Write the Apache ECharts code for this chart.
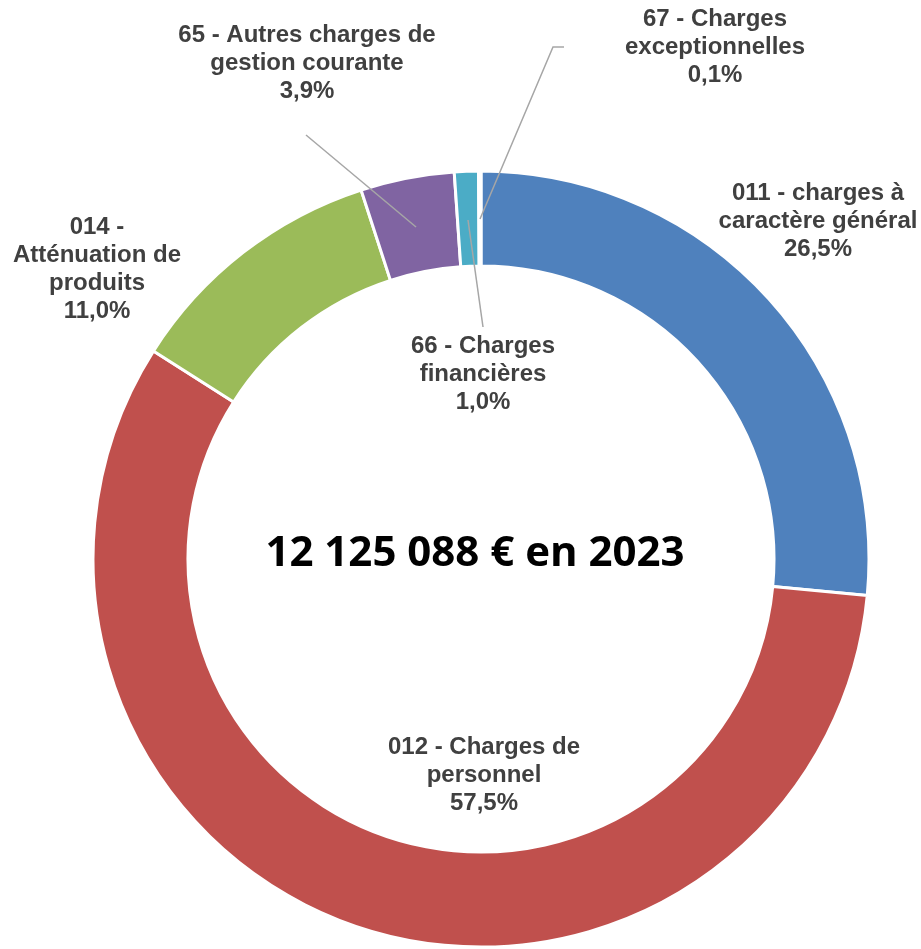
<!DOCTYPE html>
<html>
<head>
<meta charset="utf-8">
<script src="https://cdn.jsdelivr.net/npm/echarts@6/dist/echarts.min.js"></script>
<style>
  html, body { margin: 0; padding: 0; background: #fff; }
  #main { width: 921px; height: 949px; }
</style>
</head>
<body>
<div id="main"></div>
<script>
// Chapitres de dépenses (libellés tels qu'affichés)
const categories = [
    '011 - charges à\ncaractère général',
    '012 - Charges de\npersonnel',
    '014 -\nAtténuation de\nproduits',
    '65 - Autres charges de\ngestion courante',
    '66 - Charges\nfinancières',
    '67 - Charges\nexceptionnelles'
];
const shares = [26.5, 57.5, 11.0, 3.9, 1.0, 0.1];
const colors = ['#4F81BD', '#C0504D', '#9BBB59', '#8064A2', '#4BACC6', '#F79646'];
const centerText = '12 125 088 € en 2023';

// label placement: [x, y] centre of each label block
const labelPos = [
    [818, 221],
    [484, 775],
    [97, 269],
    [307, 63],
    [483, 374],
    [715, 47]
];
// leader lines, drawn over the ring like in the original
const leaderLines = [
    [[416, 227], [306, 135]],
    [[468, 220], [483, 327]],
    [[480, 219], [553, 47], [564, 47]]
];

let myChart = echarts.init(document.getElementById('main'));

let options = {
    animation: false,
    graphic: [{
        type: 'text',
        x: 475,
        y: 533,
        z: 100,
        style: {
            text: centerText,
            font: 'bold 42px "Open Sans", sans-serif',
            fill: '#000',
            textAlign: 'center'
        }
    }].concat(leaderLines.map(pts => ({
        type: 'polyline',
        z: 100,
        shape: { points: pts },
        style: { stroke: '#A6A6A6', lineWidth: 1.5, fill: null }
    }))),
    series: [{
        type: 'pie',
        center: [481, 559],
        radius: [293, 388],
        startAngle: 90,
        clockwise: true,
        avoidLabelOverlap: false,
        itemStyle: { borderColor: '#fff', borderWidth: 3 },
        label: {
            show: true,
            position: 'outside',
            formatter: p => p.name + '\n' + shares[p.dataIndex].toFixed(1).replace('.', ',') + '%',
            fontFamily: '"Liberation Sans", Arial, sans-serif',
            fontWeight: 'bold',
            fontSize: 24,
            lineHeight: 28,
            color: '#404040',
            align: 'center'
        },
        labelLine: { show: false },
        labelLayout: params => ({
            x: labelPos[params.dataIndex][0],
            y: labelPos[params.dataIndex][1],
            align: 'center',
            verticalAlign: 'middle'
        }),
        emphasis: { disabled: true },
        data: categories.map((c, i) => ({
            name: c,
            value: shares[i],
            itemStyle: { color: colors[i] }
        }))
    }]
};

myChart.setOption(options);
</script>
</body>
</html>
